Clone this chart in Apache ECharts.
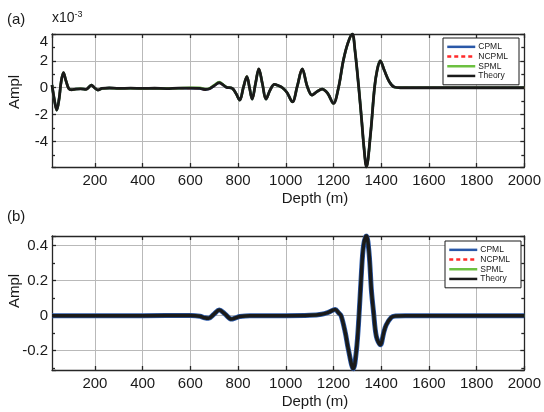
<!DOCTYPE html>
<html>
<head>
<meta charset="utf-8">
<script src="https://cdn.jsdelivr.net/npm/echarts@6/dist/echarts.min.js"></script>
<style>html,body{margin:0;padding:0;background:#fff}#c{width:544px;height:412px}</style>
</head>
<body>
<div id="c"></div>
<script>
// ---------- data ----------
const depthA = [20, 30, 40, 50, 58, 68, 78, 90, 102, 120, 140, 163, 175, 185, 198, 212, 230, 260, 300, 350, 400, 450, 500, 550, 600, 640, 662, 680, 700, 721, 740, 752, 776, 792, 807, 822, 837, 848, 859, 873, 887, 902, 917, 935, 952, 970, 986, 1005, 1028, 1048, 1069, 1090, 1110, 1130, 1152, 1175, 1200, 1221, 1241, 1260, 1279, 1290, 1306, 1318, 1328, 1338, 1355, 1372, 1383, 1396, 1413, 1434, 1455, 1480, 1600, 2000];
const theoryA = [0.2, -0.9, -1.67, -0.8, 0.4, 1.12, 0.55, -0.05, -0.15, -0.1, -0.08, -0.12, 0.05, 0.2, 0.0, -0.17, -0.05, -0.02, -0.05, -0.03, -0.05, -0.04, -0.06, -0.03, -0.03, -0.05, -0.13, -0.08, 0.15, 0.37, 0.18, 0.03, -0.05, -0.45, -0.92, 0.0, 0.83, 0.0, -0.85, 0.3, 1.4, 0.3, -0.85, -0.15, 0.25, 0.15, 0.0, -0.35, -1.05, 0.1, 1.4, 0.1, -0.55, -0.3, -0.1, -0.4, -1.17, 0.0, 2.0, 3.3, 4.0, 2.8, 0.0, -2.4, -4.5, -5.9, -3.5, 0.0, 1.3, 2.0, 1.3, 0.45, 0.05, 0.0, 0.0, 0.0];
const spmlA = [0.2, -0.9, -1.67, -0.8, 0.4, 1.12, 0.55, -0.05, -0.15, -0.1, -0.08, -0.12, 0.05, 0.2, 0.0, -0.17, -0.05, -0.02, -0.05, -0.03, -0.05, -0.04, -0.06, -0.03, 0.0, 0.0, -0.1, -0.05, 0.2, 0.42, 0.2, 0.05, -0.05, -0.45, -0.92, 0.0, 0.83, 0.0, -0.85, 0.3, 1.4, 0.3, -0.85, -0.15, 0.25, 0.15, 0.0, -0.35, -1.05, 0.1, 1.4, 0.1, -0.55, -0.3, -0.1, -0.4, -1.17, 0.0, 2.0, 3.3, 4.0, 2.8, 0.0, -2.4, -4.5, -5.9, -3.5, 0.0, 1.3, 2.0, 1.3, 0.45, 0.05, 0.0, 0.0, 0.0];

const depthB = [20, 200, 400, 600, 640, 660, 676, 700, 721, 745, 772, 790, 807, 850, 1000, 1100, 1150, 1180, 1207, 1222, 1232, 1250, 1262, 1283, 1296, 1307, 1317, 1326, 1338, 1349, 1359, 1368, 1380, 1397, 1410, 1421, 1442, 1460, 1500, 2000];
const theoryB = [0, 0, 0, 0.001, -0.003, -0.012, -0.015, 0.01, 0.032, 0.01, -0.019, -0.012, -0.005, 0, 0, 0.002, 0.008, 0.02, 0.036, 0.015, 0.0, -0.1, -0.19, -0.303, -0.2, 0.0, 0.24, 0.4, 0.457, 0.36, 0.145, 0.02, -0.12, -0.166, -0.1, -0.053, -0.01, -0.002, 0, 0];

const seriesNames = ['CPML', 'NCPML', 'SPML', 'Theory'];

// ---------- helpers ----------
const FONT = "'Liberation Sans', Arial, Helvetica, sans-serif";
const TXT = '#1a1a1a';
const zip = (xs, ys) => xs.map((x, i) => [x, ys[i]]);

const axisLineStyle = { color: '#262626', width: 1.3 };
const gridLine = { show: true, lineStyle: { color: '#b9b9b9', width: 1 } };

function xAxes(gridIndex) {
  return [
    {
      type: 'value', gridIndex, min: 20, max: 2000, splitNumber: 10,
      axisLine: { show: true, onZero: false, lineStyle: axisLineStyle },
      axisTick: { show: true, inside: true, length: 4, lineStyle: axisLineStyle },
      axisLabel: { show: true, showMinLabel: false, margin: 6, color: TXT, fontFamily: FONT, fontSize: 15, formatter: v => String(v) },
      splitLine: gridLine
    },
    {
      type: 'value', gridIndex, position: 'top', min: 20, max: 2000, splitNumber: 10,
      axisLine: { show: true, onZero: false, lineStyle: axisLineStyle },
      axisTick: { show: true, inside: true, length: 4, lineStyle: axisLineStyle },
      axisLabel: { show: false }, splitLine: { show: false }
    }
  ];
}
function yAxes(gridIndex, min, max, fmt, showMax) {
  return [
    {
      type: 'value', gridIndex, min, max, splitNumber: 5,
      axisLine: { show: true, onZero: false, lineStyle: axisLineStyle },
      axisTick: { show: true, inside: true, length: 4, lineStyle: axisLineStyle },
      minorTick: { show: true, splitNumber: 2, length: 3, lineStyle: axisLineStyle },
      axisLabel: { show: true, showMinLabel: false, showMaxLabel: showMax, margin: 4, color: TXT, fontFamily: FONT, fontSize: 15, formatter: fmt,
        rich: { t: { fontFamily: FONT, fontSize: 15, color: TXT, padding: [15, 0, 0, 0] } } },
      splitLine: gridLine
    },
    {
      type: 'value', gridIndex, position: 'right', min, max, splitNumber: 5,
      axisLine: { show: true, onZero: false, lineStyle: axisLineStyle },
      axisTick: { show: true, inside: true, length: 4, lineStyle: axisLineStyle },
      minorTick: { show: true, splitNumber: 2, length: 3, lineStyle: axisLineStyle },
      axisLabel: { show: false }, splitLine: { show: false }
    }
  ];
}

function panelSeries(xi, yi, cp, nc, sp, th, wBlue, wBlack) {
  const base = { type: 'line', xAxisIndex: xi, yAxisIndex: yi, symbol: 'none', smooth: 0.35, animation: false };
  return [
    Object.assign({}, base, { name: 'CPML', data: cp, lineStyle: { color: '#2a58a8', width: wBlue }, itemStyle: { color: '#2a58a8' } }),
    Object.assign({}, base, { name: 'NCPML', data: nc, lineStyle: { color: '#ff2a2a', width: 2, type: [4, 3] }, itemStyle: { color: '#ff2a2a' } }),
    Object.assign({}, base, { name: 'SPML', data: sp, lineStyle: { color: '#6cc040', width: 2.5 }, itemStyle: { color: '#6cc040' } }),
    Object.assign({}, base, { name: 'Theory', data: th, lineStyle: { color: '#1a1a1a', width: wBlack }, itemStyle: { color: '#1a1a1a' } })
  ];
}

function legendAt(left, top) {
  return {
    left, top, orient: 'vertical', data: seriesNames,
    backgroundColor: '#fff', borderColor: '#1a1a1a', borderWidth: 1, borderRadius: 0,
    padding: [4, 11, 4, 3], itemGap: 0, itemWidth: 28, itemHeight: 8,
    textStyle: { fontFamily: FONT, fontSize: 8.5, color: TXT, lineHeight: 9.7, padding: [0, 0, 0, -2] },
    lineStyle: { width: 2.5 }, itemStyle: { opacity: 0 }, selectedMode: false
  };
}

const fmtA = v => (v === 4 ? '{t|4}' : String(v));
const fmtB = v => String(+v.toFixed(2));

const option = {
  animation: false,
  backgroundColor: '#fff',
  grid: [
    { left: 52, top: 34, right: 14, height: 133 },
    { left: 52, top: 236, right: 14, height: 134 }
  ],
  xAxis: [...xAxes(0), ...xAxes(1)],
  yAxis: [...yAxes(0, -5.9, 4, fmtA, true), ...yAxes(1, -0.31, 0.455, fmtB, false)],
  legend: [legendAt(443, 38), legendAt(445, 241)],
  series: [
    ...panelSeries(0, 0, zip(depthA, theoryA), zip(depthA, theoryA), zip(depthA, spmlA), zip(depthA, theoryA), 2.5, 2.8),
    ...panelSeries(2, 2, zip(depthB, theoryB), zip(depthB, theoryB), zip(depthB, theoryB), zip(depthB, theoryB), 5, 3.5)
  ],
  graphic: [
    { type: 'text', left: 7, top: 12, style: { text: '(a)', font: '15px ' + FONT, fill: TXT } },
    { type: 'text', left: 7, top: 209, style: { text: '(b)', font: '15px ' + FONT, fill: TXT } },
    { type: 'text', left: 52, top: 10, style: { text: 'x10{s|-3}', font: '14px ' + FONT, fill: TXT,
        rich: { s: { fontFamily: FONT, fontSize: 9, fill: TXT, verticalAlign: 'top', padding: [0, 0, 8, 0] } } } },
    { type: 'text', x: 15, y: 92, rotation: Math.PI / 2, style: { text: 'Ampl', font: '15px ' + FONT, fill: TXT, align: 'center', verticalAlign: 'middle' } },
    { type: 'text', x: 15, y: 291, rotation: Math.PI / 2, style: { text: 'Ampl', font: '15px ' + FONT, fill: TXT, align: 'center', verticalAlign: 'middle' } },
    { type: 'text', x: 315, y: 199, style: { text: 'Depth (m)', font: '15px ' + FONT, fill: TXT, align: 'center', verticalAlign: 'middle' } },
    { type: 'text', x: 315, y: 402, style: { text: 'Depth (m)', font: '15px ' + FONT, fill: TXT, align: 'center', verticalAlign: 'middle' } }
  ]
};

const chart = echarts.init(document.getElementById('c'), null, { renderer: 'canvas' });
chart.setOption(option);
</script>
</body>
</html>
